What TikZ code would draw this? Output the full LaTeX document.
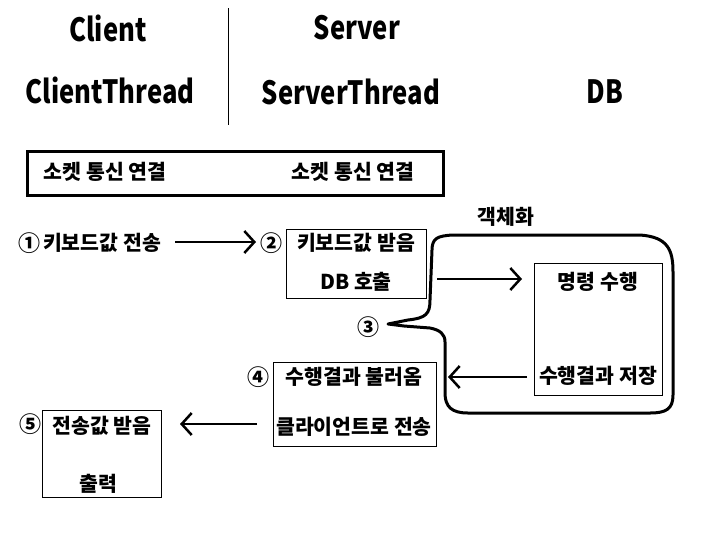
\documentclass[tikz,border=0pt]{standalone}
\usepackage{fontspec}
\usetikzlibrary{arrows.meta}
\newfontfamily\headfont[FakeStretch=0.8]{Noto Sans CJK KR}
\newfontfamily\krfont{Noto Sans CJK KR}
\tikzset{
  head/.style={font=\headfont\bfseries\fontsize{32}{36}\selectfont, inner sep=0pt},
  txt/.style={font=\krfont\bfseries\fontsize{20.5}{24}\selectfont, inner sep=0pt},
  numtxt/.style={font=\krfont\bfseries\fontsize{22}{24}\selectfont, inner sep=0pt},
  box/.style={draw, line width=1pt, rectangle, inner sep=0pt},
  arr/.style={line width=2.5pt, -{Straight Barb[length=10pt,width=22pt,line width=2.5pt]}}
}
\begin{document}
\begin{tikzpicture}[x=1pt,y=-1pt]
\useasboundingbox (0,0) rectangle (709,544);
% headers
\node[head] (client) at (108,28) {Client};
\node[head] (cthread) at (110,90) {ClientThread};
\node[head] (server) at (357,28) {Server};
\node[head] (sthread) at (351,92) {ServerThread};
\node[head] (db) at (605,92) {DB};
\coordinate (vtop) at (228,8);
\coordinate (vbot) at (228,125);
\draw[line width=1pt] (vtop) -- (vbot);
% socket box
\node[draw, line width=3pt, minimum width=416, minimum height=44, inner sep=0pt] (sock) at (235,173) {};
\node[txt] (s1) at (105,172) {소켓 통신 연결};
\node[txt] (s2) at (353,172) {소켓 통신 연결};
% step 1
\node[numtxt] (n1) at (29,243) {①};
\node[txt] (k1) at (102,243) {키보드값 전송};
\node[numtxt] (n2) at (271,243) {②};
\node[box, minimum width=140, minimum height=69] (b2) at (356,263.5) {};
\node[txt] (b2a) at (356,243) {키보드값 받음};
\node[txt] (b2b) at (356,282) {DB 호출};
\coordinate (a1s) at (175,242);
\coordinate (a1e) at (256,242);
\draw[arr] (a1s) -- (a1e);
% bubble
\draw[line width=3pt, line join=round]
 (432,250) .. controls (432,238) and (438,236) .. (452,235)
 -- (640,235) .. controls (668,237) and (673,250) .. (673,272)
 -- (673,395) .. controls (673,409) and (666,413) .. (650,413)
 -- (468,413) .. controls (452,413) and (445,407) .. (445,393)
 -- (445,342) .. controls (445,334) and (440,330) .. (430,328)
 -- (404,326) -- (388,324) -- (408,320) .. controls (426,318) and (430,314) .. (430,300)
 -- cycle;
\node[txt] (obj) at (506,217) {객체화};
\node[numtxt] (n3) at (368,327) {③};
% DB box
\node[box, minimum width=128, minimum height=132] (bdb) at (598,329) {};
\node[txt] (dba) at (598,282) {명령 수행};
\node[txt] (dbb) at (598,376) {수행결과 저장};
\coordinate (a2s) at (437,279);
\coordinate (a2e) at (522,279);
\draw[arr] (a2s) -- (a2e);
\coordinate (a3s) at (527,377);
\coordinate (a3e) at (448,377);
\draw[arr] (a3s) -- (a3e);
% step 4
\node[numtxt] (n4) at (258,377) {④};
\node[box, minimum width=163, minimum height=84] (b4) at (354.5,404) {};
\node[txt] (b4a) at (354,377) {수행결과 불러옴};
\node[txt] (b4b) at (354,427) {클라이언트로 전송};
\coordinate (a4s) at (257,424);
\coordinate (a4e) at (180,424);
\draw[arr] (a4s) -- (a4e);
% step 5
\node[numtxt] (n5) at (30,424) {⑤};
\node[box, minimum width=119, minimum height=87] (b5) at (101.5,453.5) {};
\node[txt] (b5a) at (102,426) {전송값 받음};
\node[txt] (b5b) at (98,484) {출력};
\end{tikzpicture}
\end{document}
